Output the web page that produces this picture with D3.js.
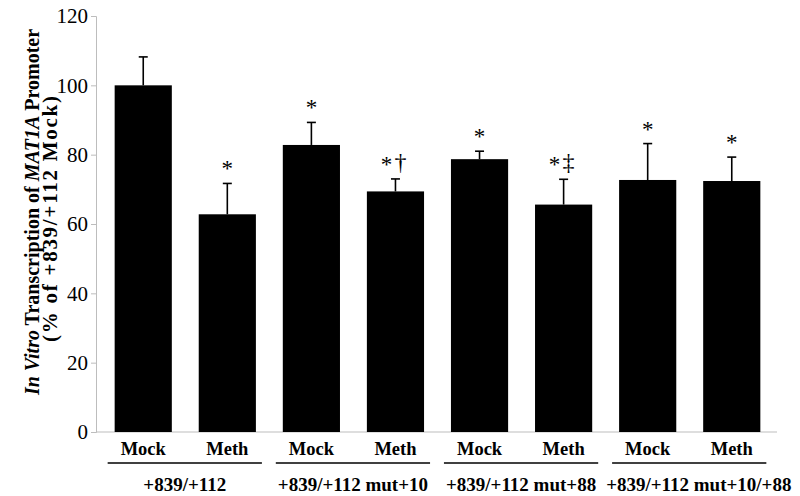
<!DOCTYPE html>
<html>
<head>
<meta charset="utf-8">
<script src="https://cdn.jsdelivr.net/npm/d3@7"></script>
<style>
  body { margin: 0; background: #fff; }
  svg { display: block; font-family: "Liberation Serif", "Times New Roman", serif; }
</style>
</head>
<body>
<svg id="chart" width="800" height="496"></svg>
<script>
// data
const treatments = ["Mock", "Meth", "Mock", "Meth", "Mock", "Meth", "Mock", "Meth"];
const groups = ["+839/+112", "+839/+112 mut+10", "+839/+112 mut+88", "+839/+112 mut+10/+88"];
const means = [100, 62.8, 82.8, 69.4, 78.7, 65.6, 72.7, 72.4];
const errors = [8.2, 8.9, 6.5, 3.6, 2.3, 7.3, 10.5, 6.9];
const stars = ["", "*", "*", "*", "*", "*", "*", "*"];
const daggers = ["", "", "", "†", "", "‡", "", ""];
const yTicks = [0, 20, 40, 60, 80, 100, 120];

const svg = d3.select('#chart');

const y = d3.scaleLinear().domain([0, 120]).range([432, 16]);
const x = d3.scaleBand()
  .domain(d3.range(means.length))
  .range([97, 778])
  .paddingInner(0.32)
  .paddingOuter(0.21);
const bw = x.bandwidth();

// axes
const yAxis = svg.append('g')
  .attr('transform', 'translate(96,0)')
  .call(d3.axisLeft(y).tickValues(yTicks).tickSize(5).tickPadding(3));
yAxis.select('.domain').attr('stroke', '#bdbdbd');
yAxis.selectAll('.tick line').attr('stroke', '#bdbdbd');
yAxis.selectAll('.tick text')
  .attr('fill', '#000')
  .style('font-family', '"Liberation Serif", serif')
  .style('font-size', '21px');

svg.append('line')
  .attr('x1', 96).attr('x2', 777)
  .attr('y1', y(0)).attr('y2', y(0))
  .attr('stroke', '#bdbdbd');

// bars
svg.selectAll('rect.bar')
  .data(means)
  .enter()
  .append('rect')
  .attr('class', 'bar')
  .attr('x', (d, i) => x(i))
  .attr('y', d => y(d))
  .attr('width', bw)
  .attr('height', d => y(0) - y(d))
  .attr('fill', '#000');

// error bars (upper only)
const err = svg.selectAll('g.err')
  .data(means)
  .enter()
  .append('g')
  .attr('class', 'err');
err.append('line')
  .attr('x1', (d, i) => x(i) + bw / 2)
  .attr('x2', (d, i) => x(i) + bw / 2)
  .attr('y1', d => y(d))
  .attr('y2', (d, i) => y(d + errors[i]))
  .attr('stroke', '#000')
  .attr('stroke-width', 1.6);
err.append('line')
  .attr('x1', (d, i) => x(i) + bw / 2 - 4.5)
  .attr('x2', (d, i) => x(i) + bw / 2 + 4.5)
  .attr('y1', (d, i) => y(d + errors[i]))
  .attr('y2', (d, i) => y(d + errors[i]))
  .attr('stroke', '#000')
  .attr('stroke-width', 1.6);

// significance marks
svg.selectAll('text.star')
  .data(means)
  .enter()
  .append('text')
  .attr('class', 'star')
  .attr('x', (d, i) => x(i) + bw / 2 + (daggers[i] ? -9 : 0))
  .attr('y', (d, i) => y(d + errors[i]) - 7)
  .attr('text-anchor', 'middle')
  .style('font-size', '23px')
  .text((d, i) => stars[i]);

svg.selectAll('text.dagger')
  .data(means)
  .enter()
  .append('text')
  .attr('class', 'dagger')
  .attr('x', (d, i) => x(i) + bw / 2 + 5)
  .attr('y', (d, i) => y(d + errors[i]) - 9)
  .attr('text-anchor', 'middle')
  .style('font-size', '24px')
  .text((d, i) => daggers[i]);

// Mock / Meth labels
svg.selectAll('text.treat')
  .data(treatments)
  .enter()
  .append('text')
  .attr('class', 'treat')
  .attr('x', (d, i) => x(i) + bw / 2)
  .attr('y', 455)
  .attr('text-anchor', 'middle')
  .style('font-size', '18.5px')
  .style('font-weight', 'bold')
  .text(d => d);

// group underline + labels
let prevEnd = 0;
groups.forEach((g, k) => {
  const x0 = x(2 * k) - 7;
  const x1 = x(2 * k + 1) + bw + 6;
  svg.append('line')
    .attr('x1', x0).attr('x2', x1)
    .attr('y1', 463).attr('y2', 463)
    .attr('stroke', '#000')
    .attr('stroke-width', 1.5);
  const t = svg.append('text')
    .attr('y', 491)
    .attr('text-anchor', 'start')
    .style('font-size', '19px')
    .style('font-weight', 'bold')
    .text(g);
  const w = t.node().getComputedTextLength();
  let left = (x0 + x1) / 2 - w / 2;
  if (left < prevEnd + 10) left = prevEnd + 10;
  t.attr('x', left);
  prevEnd = left + w;
});

// y axis title
const t1 = svg.append('text')
  .attr('transform', 'translate(39,212) rotate(-90)')
  .attr('text-anchor', 'middle')
  .style('font-size', '20px')
  .style('font-weight', 'bold');
t1.append('tspan').style('font-style', 'italic').text('In Vitro');
t1.append('tspan').text(' Transcription of ');
t1.append('tspan').style('font-style', 'italic').text('MAT1A');
t1.append('tspan').text(' Promoter');

svg.append('text')
  .attr('transform', 'translate(57,219) rotate(-90)')
  .attr('text-anchor', 'middle')
  .attr('textLength', 246)
  .attr('lengthAdjust', 'spacing')
  .style('font-size', '21px')
  .style('font-weight', 'bold')
  .text('(% of +839/+112 Mock)');
</script>
</body>
</html>
